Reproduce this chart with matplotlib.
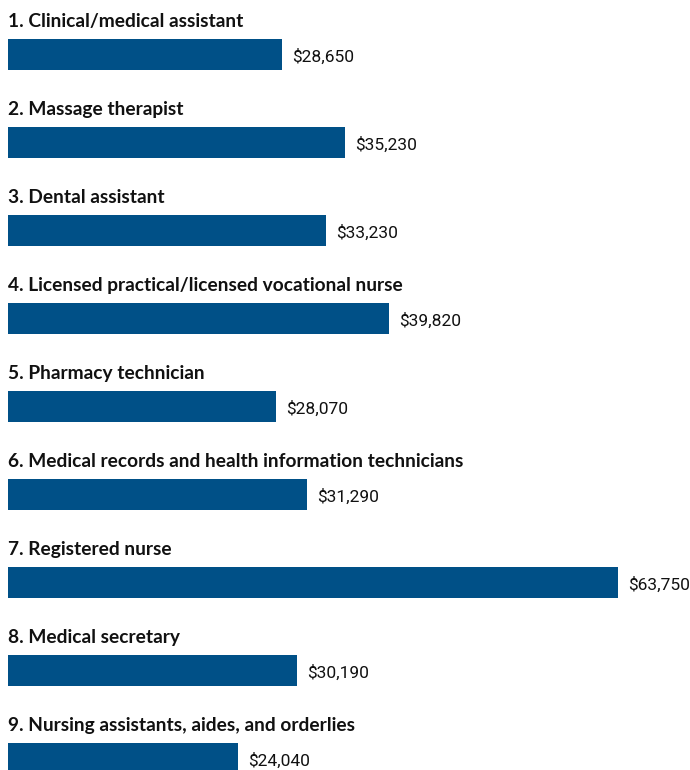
import matplotlib.pyplot as plt

# data
jobs = [
    "1. Clinical/medical assistant",
    "2. Massage therapist",
    "3. Dental assistant",
    "4. Licensed practical/licensed vocational nurse",
    "5. Pharmacy technician",
    "6. Medical records and health information technicians",
    "7. Registered nurse",
    "8. Medical secretary",
    "9. Nursing assistants, aides, and orderlies",
]
salaries = [28650, 35230, 33230, 39820, 28070, 31290, 63750, 30190, 24040]

bar_color = "#005087"

fig = plt.figure(figsize=(6.9, 7.7), dpi=100)
ax = fig.add_axes([8 / 690, 0, 682 / 690, 1])

ypos = list(range(len(jobs)))
ax.barh(ypos, salaries, height=0.352, color=bar_color)

for y, name, val in zip(ypos, jobs, salaries):
    ax.text(0, y - 0.3125, name, ha="left", va="baseline",
            fontsize=13.8, fontweight="bold", family=["Lato", "DejaVu Sans"],
            color="#111111")
    ax.text(val + 1050, y + 0.03, "${:,}".format(val), ha="left", va="center",
            fontsize=12.5, family=["Roboto", "DejaVu Sans"], color="#111111")

ax.set_xlim(0, 71300)
ax.set_ylim(8.131, -0.619)
ax.axis("off")

fig.savefig("out.png", dpi=100, facecolor="white")
